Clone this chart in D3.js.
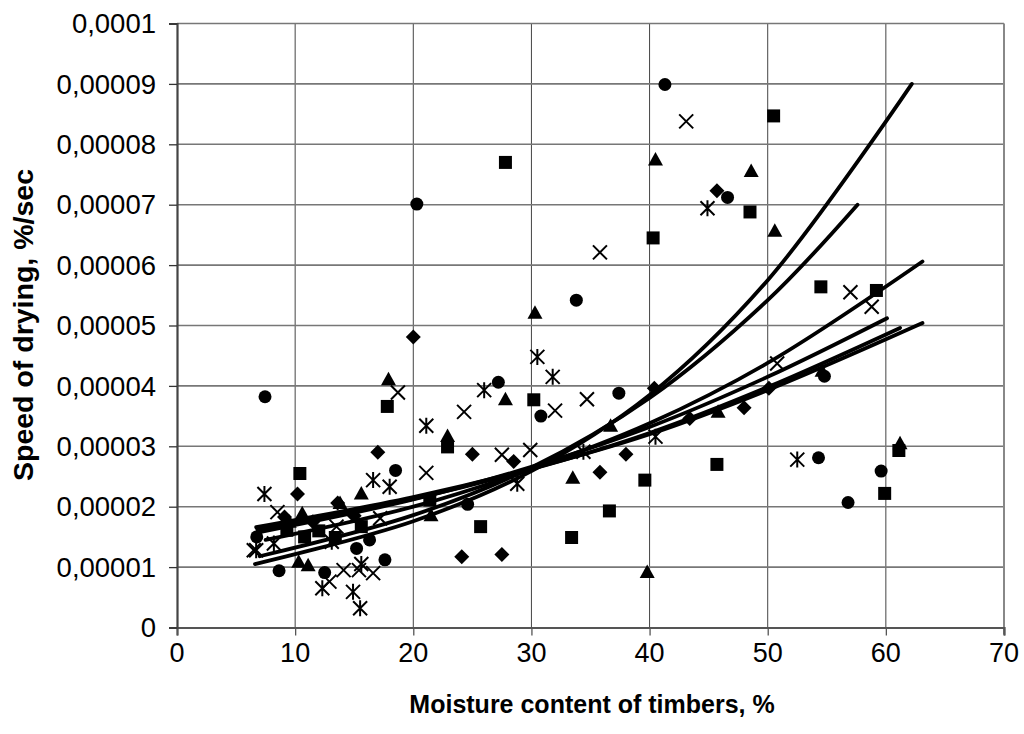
<!DOCTYPE html>
<html>
<head>
<meta charset="utf-8">
<script src="https://cdn.jsdelivr.net/npm/d3@7"></script>
<style>
  body { margin: 0; background: #fff; }
  svg { display: block; font-family: "Liberation Sans", Arial, sans-serif; }
</style>
</head>
<body>
<svg width="1024" height="734"></svg>
<script>
// speed of drying values are kept in units of 0.00001 %/sec
var xTicks = [0, 10, 20, 30, 40, 50, 60, 70];
var yTicks = [0, 1, 2, 3, 4, 5, 6, 7, 8, 9, 10];
var yTickLabels = ["0", "0,00001", "0,00002", "0,00003", "0,00004", "0,00005",
  "0,00006", "0,00007", "0,00008", "0,00009", "0,0001"];

var circles = [[7.45,3.82],[20.3,7.01],[41.3,8.99],[33.8,5.42],[46.6,7.12],[27.2,4.06],
  [37.4,3.88],[30.8,3.50],[54.8,4.16],[54.3,2.81],[56.8,2.07],[59.6,2.59],[6.75,1.50],
  [8.64,0.94],[12.5,0.91],[15.2,1.31],[18.5,2.60],[16.3,1.45],[17.6,1.12],[24.6,2.04]];
var squares = [[27.8,7.70],[40.3,6.45],[17.8,3.66],[30.2,3.77],[50.5,8.47],[59.2,5.58],
  [54.5,5.64],[48.5,6.88],[45.7,2.70],[39.6,2.44],[59.9,2.22],[61.1,2.93],[22.9,2.99],
  [36.6,1.93],[33.4,1.49],[25.7,1.67],[21.4,2.11],[10.4,2.55],[15.6,1.67],[9.3,1.61],
  [13.4,1.49],[10.8,1.50],[12.0,1.60]];
var triangles = [[40.5,7.75],[48.6,7.56],[50.6,6.57],[30.3,5.21],[17.9,4.11],[27.8,3.78],
  [22.9,3.17],[33.5,2.48],[36.7,3.34],[39.8,0.92],[21.5,1.86],[61.2,3.05],[45.8,3.57],
  [15.6,2.22],[13.8,2.06],[10.6,1.89],[10.3,1.09],[11.1,1.03],[54.6,4.25],[9.5,1.75]];
var diamonds = [[45.7,7.23],[20.0,4.81],[40.4,3.96],[25.0,2.87],[28.5,2.75],[35.8,2.57],
  [38.0,2.87],[24.1,1.17],[27.5,1.21],[43.4,3.46],[48.0,3.64],[50.1,3.96],[17.0,2.90],
  [10.2,2.21],[9.1,1.83],[13.6,2.06],[11.5,1.75],[15.0,1.85]];
var crosses = [[43.1,8.38],[57.0,5.55],[58.8,5.31],[35.8,6.21],[34.7,3.78],[32.0,3.59],
  [18.7,3.89],[24.3,3.57],[27.5,2.86],[29.9,2.94],[21.1,2.56],[50.8,4.37],[8.5,1.91],
  [13.5,1.67],[17.2,1.81],[16.6,0.90],[15.4,0.95],[14.1,0.95],[12.9,0.76],[6.5,1.28]];
var asterisks = [[44.9,6.94],[30.5,4.48],[31.8,4.15],[26.0,3.93],[21.1,3.34],[28.8,2.38],
  [34.4,2.91],[40.5,3.16],[52.5,2.78],[7.4,2.21],[16.6,2.44],[18.0,2.33],[8.2,1.39],
  [6.7,1.28],[12.3,0.65],[14.9,0.59],[15.5,0.32],[13.1,1.42],[15.6,1.05]];

// trend lines, points
var trendA = [[6.6,1.05],[20,1.76],[30,2.59],[40,3.85],[50,5.75],[62.2,9.0]];
var trendB = [[7.0,1.18],[20,1.86],[30,2.65],[40,3.80],[50,5.42],[57.6,7.0]];
var trendC = [[7.5,1.45],[20,2.0],[30,2.62],[40,3.38],[50,4.38],[63.1,6.06]];
var trendD = [[7.0,1.58],[20,2.12],[30,2.66],[40,3.32],[50,4.15],[60.1,5.12]];
var trendE = [[6.8,1.62],[20,2.13],[30,2.62],[40,3.22],[50,3.98],[61.2,4.96]];
var trendF = [[6.7,1.66],[20,2.16],[30,2.63],[40,3.20],[50,3.93],[63.1,5.04]];

var plotLeft = 177, plotRight = 1004, plotTop = 23.5, plotBottom = 627.5;

var svg = d3.select("svg");

var x = d3.scaleLinear().domain([0, 70]).range([plotLeft, plotRight]);
var y = d3.scaleLinear().domain([0, 10]).range([plotBottom, plotTop]);

// grid
svg.append("g")
  .selectAll("line")
  .data(xTicks.slice(1, -1))
  .enter()
  .append("line")
  .attr("x1", (d) => x(d)).attr("x2", (d) => x(d))
  .attr("y1", plotTop).attr("y2", plotBottom)
  .attr("stroke", "#444").attr("stroke-width", 1);

svg.append("g")
  .selectAll("line")
  .data(yTicks.slice(1))
  .enter()
  .append("line")
  .attr("x1", plotLeft).attr("x2", plotRight)
  .attr("y1", (d) => y(d)).attr("y2", (d) => y(d))
  .attr("stroke", "#777").attr("stroke-width", 1.6);

// right border
svg.append("line")
  .attr("x1", plotRight).attr("x2", plotRight)
  .attr("y1", plotTop).attr("y2", plotBottom + 7)
  .attr("stroke", "#888").attr("stroke-width", 2);

// axes
var xAxis = d3.axisBottom(x).tickValues(xTicks).tickSize(8).tickFormat("");
var yAxis = d3.axisLeft(y).tickValues(yTicks).tickSize(8).tickFormat("");

var gx = svg.append("g").attr("transform", `translate(0, ${plotBottom})`).call(xAxis);
var gy = svg.append("g").attr("transform", `translate(${plotLeft}, 0)`).call(yAxis);
gx.select(".domain").attr("stroke", "#555").attr("stroke-width", 2.2);
gy.select(".domain").attr("stroke", "#444").attr("stroke-width", 2.2);
gx.selectAll(".tick line").attr("stroke", "#555").attr("stroke-width", 1.3);
gy.selectAll(".tick line").attr("stroke", "#333").attr("stroke-width", 1.3);

svg.append("g")
  .selectAll("text")
  .data(xTicks)
  .enter()
  .append("text")
  .attr("x", (d) => x(d))
  .attr("y", 653)
  .attr("dy", "0.35em")
  .attr("text-anchor", "middle")
  .attr("font-size", 27)
  .text((d) => d);

svg.append("g")
  .selectAll("text")
  .data(yTicks)
  .enter()
  .append("text")
  .attr("x", 156)
  .attr("y", (d) => y(d))
  .attr("dy", "0.35em")
  .attr("text-anchor", "end")
  .attr("font-size", 27.5)
  .text((d, i) => yTickLabels[i]);

svg.append("text")
  .attr("transform", "translate(23, 325) rotate(-90)")
  .attr("dy", "0.35em")
  .attr("text-anchor", "middle")
  .attr("font-size", 28.5)
  .attr("font-weight", "bold")
  .text("Speed of drying, %/sec");

svg.append("text")
  .attr("x", 592)
  .attr("y", 704)
  .attr("dy", "0.35em")
  .attr("text-anchor", "middle")
  .attr("font-size", 25)
  .attr("font-weight", "bold")
  .text("Moisture content of timbers, %");

// markers
var plot = svg.append("g");

function addFilled(data, shape) {
  plot.selectAll(null)
    .data(data)
    .enter()
    .append("path")
    .attr("transform", (d) => `translate(${x(d[0])}, ${y(d[1])})`)
    .attr("d", shape)
    .attr("fill", "#000");
}

function addStroked(data, shape) {
  plot.selectAll(null)
    .data(data)
    .enter()
    .append("path")
    .attr("transform", (d) => `translate(${x(d[0])}, ${y(d[1])})`)
    .attr("d", shape)
    .attr("fill", "none")
    .attr("stroke", "#000")
    .attr("stroke-width", 2);
}

addFilled(circles, "M6.5,0A6.5,6.5 0 1,1 -6.5,0A6.5,6.5 0 1,1 6.5,0Z");
addFilled(squares, "M-6.5,-6.5H6.5V6.5H-6.5Z");
addFilled(triangles, "M0,-7.5L7.5,6L-7.5,6Z");
addFilled(diamonds, "M0,-7.5L7.5,0L0,7.5L-7.5,0Z");
addStroked(crosses, "M-7,-7L7,7M7,-7L-7,7");
addStroked(asterisks, "M-7,-7L7,7M7,-7L-7,7M0,-8V8");

// trend lines
var line = d3.line()
  .x((d) => x(d[0]))
  .y((d) => y(d[1]))
  .curve(d3.curveCatmullRom);

svg.append("g")
  .selectAll("path")
  .data([trendA, trendB, trendC, trendD, trendE, trendF])
  .enter()
  .append("path")
  .attr("d", line)
  .attr("fill", "none")
  .attr("stroke", "#000")
  .attr("stroke-width", 3.8)
  .attr("stroke-linecap", "round");
</script>
</body>
</html>
